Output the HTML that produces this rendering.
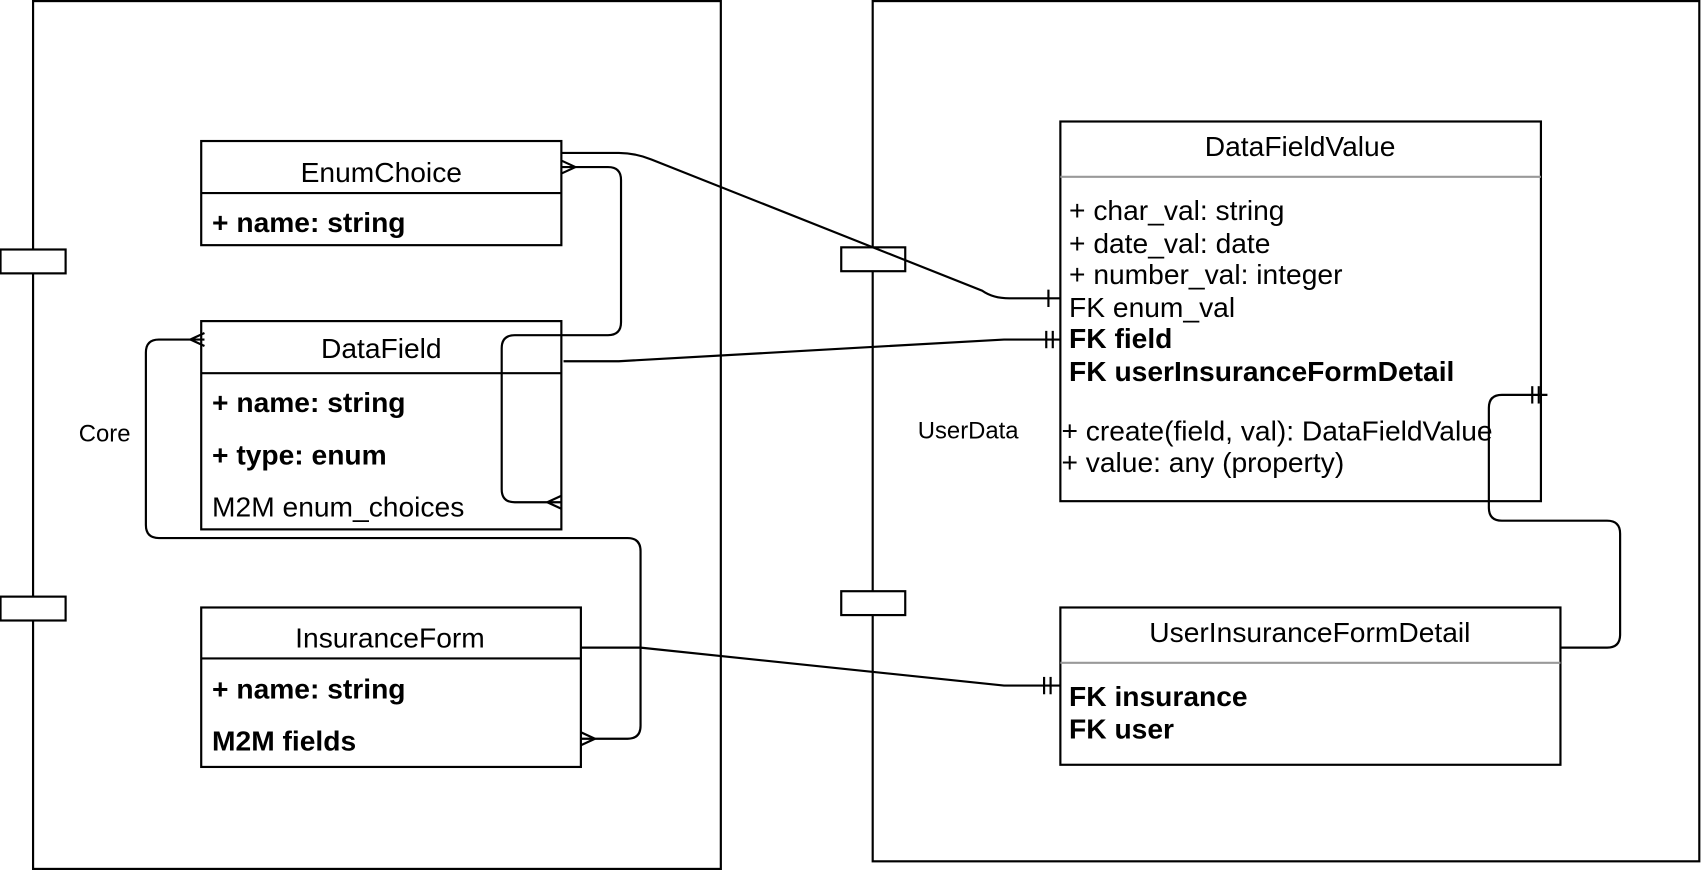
<!DOCTYPE html>
<html><head><meta charset="utf-8"><style>
html,body{margin:0;padding:0;background:#fff;}
svg{display:block;}
text{font-family:"Liberation Sans",sans-serif;fill:#000;}
</style></head><body>
<svg width="1702" height="870" viewBox="0 0 1568 802" xmlns="http://www.w3.org/2000/svg">
<g fill="none" stroke="#000" stroke-width="2">
<rect x="30" y="1" width="634" height="800"/>
<rect x="804" y="1" width="762" height="793"/>
</g>
<g fill="#fff" stroke="#000" stroke-width="2">
<rect x="0" y="230" width="60" height="22"/>
<rect x="0" y="550" width="60" height="22"/>
<rect x="775" y="228" width="59" height="22"/>
<rect x="775" y="545" width="59" height="22"/>
</g>
<text x="96" y="407" font-size="22" text-anchor="middle">Core</text>
<text x="892" y="404" font-size="22" text-anchor="middle">UserData</text>

<g fill="#fff" stroke="#000" stroke-width="2">
<rect x="185" y="130" width="332" height="96"/>
<line x1="185" y1="178" x2="517" y2="178"/>
<rect x="185" y="296" width="332" height="192"/>
<line x1="185" y1="344" x2="517" y2="344"/>
<rect x="185" y="560" width="350" height="147"/>
<line x1="185" y1="607" x2="535" y2="607"/>
<rect x="977" y="112" width="443" height="350"/>
<rect x="977" y="560" width="461" height="145"/>
</g>
<line x1="977" y1="163" x2="1420" y2="163" stroke="#999" stroke-width="2"/>
<line x1="977" y1="611" x2="1438" y2="611" stroke="#999" stroke-width="2"/>

<g font-size="26">
<text x="351" y="168" text-anchor="middle">EnumChoice</text>
<text x="195" y="214" font-weight="bold">+ name: string</text>
<text x="351" y="330" text-anchor="middle">DataField</text>
<text x="195" y="380" font-weight="bold">+ name: string</text>
<text x="195" y="428" font-weight="bold">+ type: enum</text>
<text x="195" y="476">M2M enum_choices</text>
<text x="359" y="597" text-anchor="middle">InsuranceForm</text>
<text x="195" y="644" font-weight="bold">+ name: string</text>
<text x="195" y="692" font-weight="bold">M2M fields</text>
<text x="1198" y="144" text-anchor="middle">DataFieldValue</text>
<text x="985" y="203">+ char_val: string</text>
<text x="985" y="233">+ date_val: date</text>
<text x="985" y="262">+ number_val: integer</text>
<text x="985" y="292">FK enum_val</text>
<text x="985" y="321" font-weight="bold">FK field</text>
<text x="985" y="351" font-weight="bold">FK userInsuranceFormDetail</text>
<text x="978" y="406">+ create(field, val): DataFieldValue</text>
<text x="978" y="435">+ value: any (property)</text>
<text x="1207" y="592" text-anchor="middle">UserInsuranceFormDetail</text>
<text x="985" y="651" font-weight="bold">FK insurance</text>
<text x="985" y="681" font-weight="bold">FK user</text>
</g>

<g fill="none" stroke="#000" stroke-width="2">
<path d="M517 141 L570 141 Q585 141 600 147 L905 268 Q915 275 930 275 L977 275"/>
<line x1="966" y1="267" x2="966" y2="283"/>
<path d="M517 154 L560 154 Q572 154 572 166 L572 297 Q572 309 560 309 L474 309 Q462 309 462 321 L462 451 Q462 463 474 463 L517 463"/>
<path d="M530 154 L517 148 M530 154 L517 160"/>
<path d="M504 463 L517 457 M504 463 L517 469"/>
<path d="M519 333 L570 333 L925 313 L977 313"/>
<line x1="964" y1="305" x2="964" y2="321"/><line x1="970" y1="305" x2="970" y2="321"/>
<path d="M188 313 L146 313 Q134 313 134 325 L134 484 Q134 496 146 496 L578 496 Q590 496 590 508 L590 669 Q590 681 578 681 L535 681"/>
<path d="M175 313 L188 307 M175 313 L188 319"/>
<path d="M548 681 L535 675 M548 681 L535 687"/>
<path d="M535 597 L590 597 L925 632 L977 632"/>
<line x1="962" y1="624" x2="962" y2="640"/><line x1="968" y1="624" x2="968" y2="640"/>
<path d="M1438 597 L1481 597 Q1493 597 1493 585 L1493 492 Q1493 480 1481 480 L1384 480 Q1372 480 1372 468 L1372 376 Q1372 364 1384 364 L1426 364"/>
<line x1="1412" y1="356" x2="1412" y2="372"/><line x1="1418" y1="356" x2="1418" y2="372"/>
</g>
</svg>
</body></html>
